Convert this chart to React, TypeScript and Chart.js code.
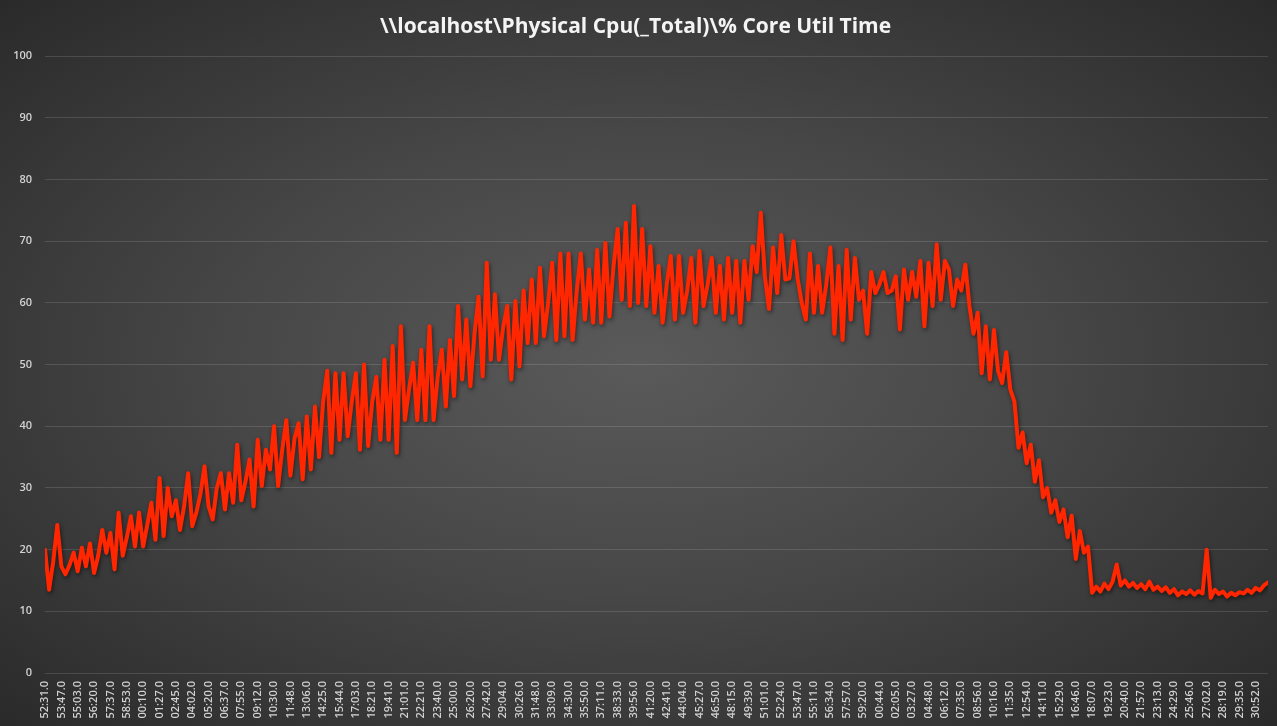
import { useEffect, useRef } from "react";
import { Chart, registerables } from "chart.js";

Chart.register(...registerables);

const chartTitle = "\\\\localhost\\Physical Cpu(_Total)\\% Core Util Time";

const xTickLabels = [
  "52:31.0", "53:47.0", "55:03.0", "56:20.0", "57:37.0", "58:53.0", "00:10.0", "01:27.0", "02:45.0", "04:02.0",
  "05:20.0", "06:37.0", "07:55.0", "09:12.0", "10:30.0", "11:48.0", "13:06.0", "14:25.0", "15:44.0", "17:03.0",
  "18:21.0", "19:41.0", "21:01.0", "22:21.0", "23:40.0", "25:00.0", "26:20.0", "27:42.0", "29:04.0", "30:26.0",
  "31:48.0", "33:09.0", "34:30.0", "35:50.0", "37:11.0", "38:33.0", "39:56.0", "41:20.0", "42:41.0", "44:04.0",
  "45:27.0", "46:50.0", "48:15.0", "49:39.0", "51:01.0", "52:24.0", "53:47.0", "55:11.0", "56:34.0", "57:57.0",
  "59:20.0", "00:44.0", "02:05.0", "03:27.0", "04:48.0", "06:12.0", "07:35.0", "08:56.0", "10:16.0", "11:35.0",
  "12:54.0", "14:11.0", "15:29.0", "16:46.0", "18:07.0", "19:23.0", "20:40.0", "21:57.0", "23:13.0", "24:29.0",
  "25:46.0", "27:02.0", "28:19.0", "29:35.0", "30:52.0",
];

// samples recorded between two consecutive tick labels
const samplesPerLabel = 4;

const cpuRampUp = [
  20, 13.5, 18, 24, 17.3, 16, 17.5, 19.5, 16.5, 20.3,
  17.3, 21, 16.2, 19, 23.2, 19.5, 22.7, 16.8, 26, 19,
  22, 25.4, 20.5, 26, 20.5, 24, 27.6, 21.6, 31.6, 22.2,
  30, 25.4, 28, 23.2, 27, 32.4, 23.8, 26, 29, 33.5,
  27, 24.9, 30, 32.4, 26.5, 32.4, 27.6, 37, 28, 31,
  34.6, 27, 37.8, 30.3, 36.2, 33, 40, 30.3, 36.2, 41,
  32, 38, 40.5, 31.4, 41.6, 33, 43.2, 35, 44, 49,
  35.7, 48.6, 37.8, 48.6, 38.4, 44, 48.6, 36.2, 50, 36.8,
  44, 48, 37.8, 50.8, 37.8, 53, 35.7, 56.2, 41, 46,
  50.3, 41, 52.4, 41, 56.2, 41, 48, 52.4, 43.2, 54,
  44.9, 59.5, 47.6, 57.3, 46.5, 55, 61, 48.1, 66.5, 50.8,
  61.4, 50.8, 56, 59.5, 47.6, 60.3,
];

const cpuPlateau = [
  49.7, 62, 53.5, 63.8,
  53.5, 65.7, 54.6, 60, 66.5, 54, 68, 54.6, 68, 54,
  62, 68, 57.3, 65.4, 56.8, 68.6, 56.8, 69.7, 57.8, 66,
  72, 60.5, 73, 59.5, 75.7, 60, 72, 59.5, 69.2, 58.4,
  66, 56.8, 63, 67.6, 57.3, 67.6, 58.4, 62, 67.3, 56.8,
  68.4, 59.5, 63, 67.3, 58.4, 66, 57.3, 67.3, 58.4, 66.8,
  56.8, 66.8, 60.5, 69.2, 65, 74.6, 64.3, 59, 69, 61.6,
  71, 63.8, 64, 70, 64, 60, 57.3, 68, 58.4, 66,
  58.4, 63, 69, 55, 66, 54, 68.6, 57.3, 67.3, 60.5,
  62, 55, 65, 61.6, 63, 65, 61.6, 62, 64.3, 55.7,
  65.4, 60.5, 65, 61, 66.8, 56.2, 66.5, 59.5, 69.5, 60.5,
  66.8, 65.4, 59.5, 63.8, 62, 66.2, 59.5,
];

const cpuRampDown = [
  55, 58.4, 48.6, 56.2, 47.6, 55.6, 49, 47, 52, 46,
  44, 36.5, 39, 34, 37, 31, 34.5, 28.5, 30, 26,
  28, 24.5, 26.5, 22, 25.5, 18.5, 23, 19.5, 20.5,
];

const cpuIdle = [
  13, 14, 13.2, 14.5, 13.6, 14.8, 17.6, 14.2, 15, 14,
  14.6, 13.8, 14.4, 13.6, 14.8, 13.5, 14, 13.3, 13.9, 13,
  13.6, 12.6, 13.2, 12.8, 13.4, 12.7, 13.3, 12.9, 20, 12.2,
  13.5, 12.8, 13.2, 12.4, 13, 12.6, 13.1, 12.9, 13.5, 13,
  13.8, 13.4, 14.2, 14.7,
];

const cpuValues = [...cpuRampUp, ...cpuPlateau, ...cpuRampDown, ...cpuIdle];

const lineShadow = {
  id: "lineShadow",
  beforeDatasetDraw(chart: any) {
    const ctx = chart.ctx;
    ctx.save();
    ctx.shadowColor = "rgba(0,0,0,0.55)";
    ctx.shadowBlur = 4;
    ctx.shadowOffsetX = 1;
    ctx.shadowOffsetY = 2;
  },
  afterDatasetDraw(chart: any) {
    chart.ctx.restore();
  },
};

export default function App() {
  const canvasRef = useRef<HTMLCanvasElement | null>(null);

  useEffect(() => {
    if (!canvasRef.current) return;
    const points = cpuValues.map((v, i) => ({ x: i / samplesPerLabel, y: v }));
    const tickFont = { family: "'Open Sans', sans-serif", size: 11, weight: 600 };
    const chart = new Chart(canvasRef.current, {
      type: "line",
      data: {
        datasets: [
          {
            label: "% Core Util Time",
            data: points,
            borderColor: "#ff2600",
            borderWidth: 4,
            borderJoinStyle: "round",
            borderCapStyle: "round",
            pointRadius: 0,
            tension: 0,
          },
        ],
      },
      options: {
        animation: false,
        responsive: true,
        maintainAspectRatio: false,
        layout: { padding: { left: 0, right: 6, top: 0, bottom: 0 } },
        plugins: {
          legend: { display: false },
          tooltip: { enabled: false },
          title: {
            display: true,
            text: chartTitle,
            color: "#f4f4f4",
            font: { family: "'Open Sans', sans-serif", size: 21, weight: "bold" },
            padding: { top: 14, bottom: 17 },
          },
        },
        scales: {
          x: {
            type: "linear",
            min: 0,
            max: (cpuValues.length - 1) / samplesPerLabel,
            afterBuildTicks: (scale: any) => {
              scale.ticks = xTickLabels.map((_, i) => ({ value: i }));
            },
            afterFit: (scale: any) => {
              scale.height = 53;
            },
            grid: { display: false, drawTicks: false },
            border: { display: false },
            ticks: {
              autoSkip: false,
              maxRotation: 90,
              minRotation: 90,
              padding: 8,
              color: "#d2d2d2",
              font: tickFont,
              callback: (value: any) => xTickLabels[value] ?? "",
            },
          },
          y: {
            min: 0,
            max: 100,
            afterFit: (scale: any) => {
              scale.width = 45;
            },
            grid: { color: "rgba(255,255,255,0.13)", drawTicks: false, lineWidth: 1 },
            border: { display: false },
            ticks: {
              stepSize: 10,
              padding: 13,
              color: "#d2d2d2",
              font: tickFont,
            },
          },
        },
      },
      plugins: [lineShadow],
    });
    return () => chart.destroy();
  }, []);

  return (
    <div
      style={{
        position: "fixed",
        left: 0,
        top: 0,
        width: 1277,
        height: 726,
        background:
          "radial-gradient(ellipse farthest-corner at 50% 50%, #5a5a5a 0%, #474747 45%, #2a2a2a 100%)",
      }}
    >
      <canvas ref={canvasRef} />
    </div>
  );
}
